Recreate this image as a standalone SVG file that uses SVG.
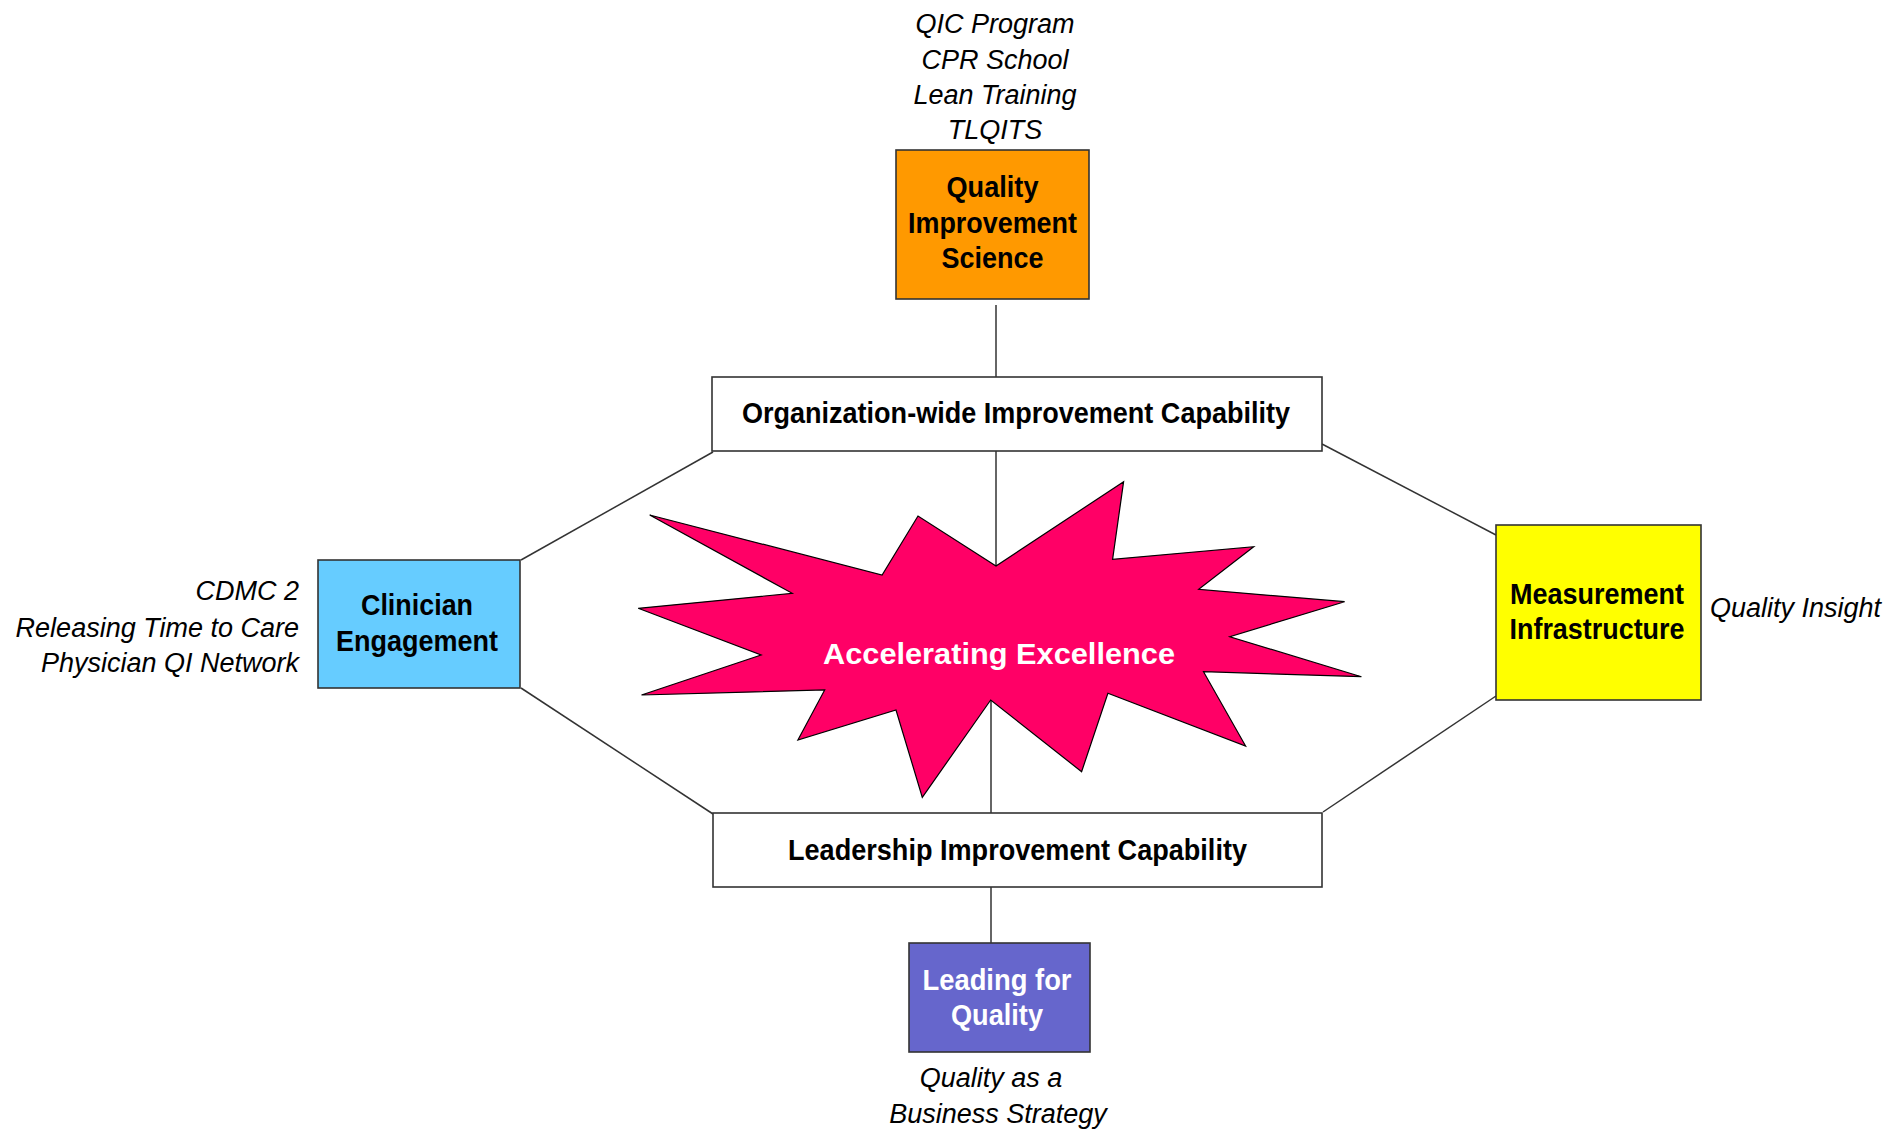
<svg xmlns="http://www.w3.org/2000/svg" width="1904" height="1133" viewBox="0 0 1904 1133">
<style>
.box{stroke:#333;stroke-width:1.6}
.conn line{stroke:#333;stroke-width:1.5}
.b{font-family:"Liberation Sans",Arial,sans-serif;font-weight:bold;font-size:29px;text-anchor:middle;fill:#000}
.w{fill:#fff}
.i{font-family:"Liberation Sans",Arial,sans-serif;font-style:italic;font-size:27px;fill:#000}
.c{text-anchor:middle}
.r{text-anchor:end}
</style>
<rect width="1904" height="1133" fill="#fff"/>
<g id="connectors" class="conn">
<line x1="996" y1="305" x2="996" y2="377"/>
<line x1="996" y1="451" x2="996" y2="566"/>
<line x1="991" y1="700" x2="991" y2="813"/>
<line x1="991" y1="887" x2="991" y2="943"/>
<line x1="713" y1="452" x2="521" y2="560"/>
<line x1="521" y1="688" x2="713" y2="814"/>
<line x1="1322" y1="444" x2="1496" y2="535"/>
<line x1="1496" y1="696" x2="1323" y2="812"/>
</g>
<g id="star">
<polygon points="649.7,515 882.1,575 918,516 996,566 1123.6,481.7 1112.6,559.3 1253.7,546.7 1198.7,589.3 1344.6,601.7 1229.8,636.7 1361.4,676.7 1203.5,671.7 1245.6,746 1107.9,693.3 1081.6,771.7 990.7,700 922.3,797.3 896,710 797.9,740 824.7,690 641.5,695 761.1,655 638.2,608.3 792.2,593.3" fill="#FF0066" stroke="#000" stroke-width="1.2" stroke-linejoin="miter"/>
<text class="b w" x="999" y="664" font-size="31" textLength="352" lengthAdjust="spacingAndGlyphs">Accelerating Excellence</text>
</g>
<g id="qi-programs">
<text class="i c" x="995" y="33">QIC Program</text>
<text class="i c" x="995" y="68.5">CPR School</text>
<text class="i c" x="995" y="104">Lean Training</text>
<text class="i c" x="995" y="139">TLQITS</text>
</g>
<g id="qi-science">
<rect class="box" x="896" y="150" width="193" height="149" fill="#FF9900"/>
<text class="b" x="992.5" y="197" textLength="92" lengthAdjust="spacingAndGlyphs">Quality</text>
<text class="b" x="992.5" y="233" textLength="169" lengthAdjust="spacingAndGlyphs">Improvement</text>
<text class="b" x="992.5" y="268" textLength="102" lengthAdjust="spacingAndGlyphs">Science</text>
</g>
<g id="org-capability">
<rect class="box" x="712" y="377" width="610" height="74" fill="#fff"/>
<text class="b" x="1016" y="423" textLength="548" lengthAdjust="spacingAndGlyphs">Organization-wide Improvement Capability</text>
</g>
<g id="clinician">
<rect class="box" x="318" y="560" width="202" height="128" fill="#66CCFF"/>
<text class="b" x="417" y="615" textLength="112" lengthAdjust="spacingAndGlyphs">Clinician</text>
<text class="b" x="417" y="651" textLength="162" lengthAdjust="spacingAndGlyphs">Engagement</text>
</g>
<g id="clinician-programs">
<text class="i r" x="299" y="600">CDMC 2</text>
<text class="i r" x="299" y="637">Releasing Time to Care</text>
<text class="i r" x="299" y="672">Physician QI Network</text>
</g>
<g id="measurement">
<rect class="box" x="1496" y="525" width="205" height="175" fill="#FFFF00"/>
<text class="b" x="1597" y="604" textLength="174" lengthAdjust="spacingAndGlyphs">Measurement</text>
<text class="b" x="1597" y="639" textLength="175" lengthAdjust="spacingAndGlyphs">Infrastructure</text>
</g>
<g id="measurement-programs">
<text class="i" x="1710" y="617">Quality Insight</text>
</g>
<g id="leadership-capability">
<rect class="box" x="713" y="813" width="609" height="74" fill="#fff"/>
<text class="b" x="1017.5" y="860" textLength="459" lengthAdjust="spacingAndGlyphs">Leadership Improvement Capability</text>
</g>
<g id="leading-quality">
<rect class="box" x="909" y="943" width="181" height="109" fill="#6666CC"/>
<text class="b w" x="997" y="990" textLength="149" lengthAdjust="spacingAndGlyphs">Leading for</text>
<text class="b w" x="997" y="1025" textLength="92" lengthAdjust="spacingAndGlyphs">Quality</text>
</g>
<g id="leading-programs">
<text class="i c" x="991" y="1087">Quality as a</text>
<text class="i c" x="998" y="1123">Business Strategy</text>
</g>
</svg>
